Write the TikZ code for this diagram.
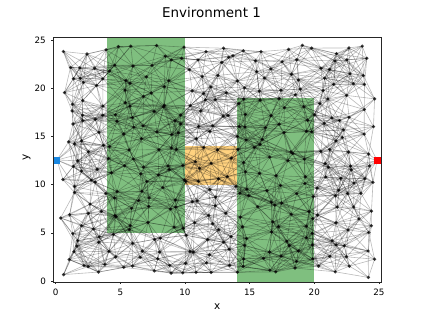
\documentclass[tikz,border=0pt]{standalone}
\usepackage{fontspec}
\setmainfont{DejaVu Sans}
\usetikzlibrary{calc}

% couleurs facon matplotlib
\definecolor{vertzone}{RGB}{0,128,0}
\definecolor{orangezone}{RGB}{255,165,0}
\definecolor{bleudepart}{RGB}{25,135,225}

\tikzset{
  zone/.style={fill=#1, fill opacity=0.5},
  arete/.style={draw=black, draw opacity=0.27, line width=0.6bp},
  sommet/.style={circle, fill=black, fill opacity=0.75, inner sep=0pt, minimum size=3.6bp},
  extremite/.style={rectangle, fill=#1, inner sep=0pt, minimum size=7bp},
  cadre/.style={draw=black!85, line width=0.55bp},
  graduation/.style={draw=black!85, line width=0.55bp},
  etiquette/.style={font=\fontsize{8.8}{10}\selectfont, inner sep=0pt},
}

\newcount\compteuri
\newcount\compteurj
\newdimen\ecartx
\newdimen\ecarty
\newdimen\distcarre
\def\nbsommets{363}
\def\rayon{3.2}
\def\rayoncarre{10.24}
\makeatletter
% trace l'arete (i,j) si les deux sommets sont proches
\def\testarete{%
  \ecartx=\dimexpr\csname sx\the\compteuri\endcsname pt-\csname sx\the\compteurj\endcsname pt\relax
  \ecarty=\dimexpr\csname sy\the\compteuri\endcsname pt-\csname sy\the\compteurj\endcsname pt\relax
  \ifdim\ecartx<\z@ \ecartx=-\ecartx\fi
  \ifdim\ecarty<\z@ \ecarty=-\ecarty\fi
  \ifdim\ecartx<\rayon pt
    \ifdim\ecarty<\rayon pt
      \distcarre=\dimexpr\ecartx*\number\ecartx/65536+\ecarty*\number\ecarty/65536\relax
      \ifdim\distcarre<\rayoncarre pt
        \edef\sa{\the\compteuri}\edef\sb{\the\compteurj}%
        \draw[arete] (v\sa) -- (v\sb);
      \fi
    \fi
  \fi}
% boucle sur j > i
\def\boucleJ{%
  \ifnum\compteurj>\nbsommets\relax
    \let\suite\relax
  \else
    \testarete
    \global\advance\compteurj\@ne
    \let\suite\boucleJ
  \fi
  \suite}
\makeatother

\begin{document}
\begin{tikzpicture}[x=1bp,y=1bp]
\useasboundingbox (0,0) rectangle (423,317);

% Titre et noms des axes
\node[anchor=base, font=\fontsize{13.5}{16}\selectfont] (titre) at (211.5,299.7) {Environment 1};
\node[anchor=base, font=\fontsize{10.5}{12}\selectfont] (nomx) at (217.2,7.7) {x};
\node[anchor=base, rotate=90, font=\fontsize{10.5}{12}\selectfont] (nomy) at (28.4,159.5) {y};

% Repere
\begin{scope}[shift={(55.7bp,36bp)}, x=12.93bp, y=9.64bp]
\coordinate (bg) at (-0.17,-0.1);
\coordinate (hd) at (25.15,25.25);

% zones
\fill[zone=vertzone] (4,5) rectangle (10,25.25);
\fill[zone=vertzone] (14,-0.1) rectangle (20,19);
\fill[zone=orangezone] (10,10) rectangle (14,14);

% sommets du graphe : depart, arrivee, puis un tirage par case d'une grille 19x19
\expandafter\def\csname sx1\endcsname{0.1}
\expandafter\def\csname sy1\endcsname{12.55}
\expandafter\def\csname sx2\endcsname{24.85}
\expandafter\def\csname sy2\endcsname{12.5}
\coordinate (v1) at (0.1,12.55);
\coordinate (v2) at (24.85,12.5);
\pgfmathsetseed{2718}
\foreach \a in {0,...,18}{
  \foreach \b in {0,...,18}{
    \pgfmathtruncatemacro{\i}{3+19*\a+\b}
    \pgfmathsetmacro{\px}{0.25+(\a+rnd)*24.5/19}
    \pgfmathsetmacro{\py}{0.3+(\b+rnd)*24.2/19}
    \expandafter\xdef\csname sx\i\endcsname{\px}
    \expandafter\xdef\csname sy\i\endcsname{\py}
    \coordinate (v\i) at (\px,\py);
  }
}

% aretes
\foreach \i in {1,...,\nbsommets}{
  \global\compteuri=\i
  \global\compteurj=\i \global\advance\compteurj by 1
  \boucleJ
}

\foreach \i in {3,...,\nbsommets}
  \node[sommet] (s\i) at (v\i) {};

\node[extremite=bleudepart] (depart) at (v1) {};
\node[extremite=red] (arrivee) at (v2) {};

% cadre et graduations
\draw[cadre] (bg) rectangle (hd);
\foreach \k in {0,5,...,25}{
  \draw[graduation] (\k,-0.1) -- ++(0,-2.4bp) node[etiquette, anchor=north, yshift=-4.8bp] {\k};
  \draw[graduation] (-0.17,\k) -- ++(-2.4bp,0) node[etiquette, anchor=east, xshift=-5bp] {\k};
}
\end{scope}
\end{tikzpicture}
\end{document}
